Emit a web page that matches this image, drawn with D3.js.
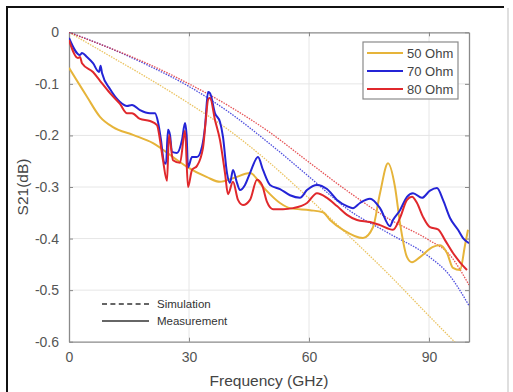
<!DOCTYPE html>
<html>
<head>
<meta charset="utf-8">
<script src="https://cdn.jsdelivr.net/npm/d3@7"></script>
<style>
  html, body { margin: 0; padding: 0; background: #fff; }
  svg { display: block; font-family: "Liberation Sans", Arial, sans-serif; }
</style>
</head>
<body>
<svg id="chart" width="513" height="392"></svg>
<script>
// Insertion loss S21 (dB) versus frequency (GHz) for three line impedances.

const xTicks = [0, 30, 60, 90];
const yTicks = [0, -0.1, -0.2, -0.3, -0.4, -0.5, -0.6];
const seriesNames = ["50 Ohm", "70 Ohm", "80 Ohm"];
const styleNames = ["Simulation", "Measurement"];

// Simulated S21 (smooth)
const sim50F = [0, 10, 20, 30, 40, 50, 60, 70, 80, 90, 97];
const sim50 = [0, -0.045, -0.09, -0.138, -0.19, -0.252, -0.322, -0.395, -0.47, -0.55, -0.605];
const sim70F = [0, 10, 20, 30, 40, 50, 60, 70, 80, 90, 95, 100];
const sim70 = [0, -0.03, -0.065, -0.105, -0.155, -0.215, -0.28, -0.345, -0.39, -0.435, -0.47, -0.53];
const sim80F = [0, 10, 20, 30, 40, 50, 60, 70, 80, 90, 95, 100];
const sim80 = [0, -0.03, -0.062, -0.1, -0.143, -0.193, -0.252, -0.31, -0.362, -0.403, -0.43, -0.49];

// Measured S21
const meas50F = [0, 4.5, 7.75, 11, 16, 21, 26, 29.5, 34.5, 37.75, 41, 45.25, 48.5, 52.75, 55.25, 60.25, 63.5,
  65.25, 68.5, 73.5, 76, 77.75, 79.75, 81.5, 82.75, 84.5, 85.75, 87.75, 91, 92.75, 94.5, 96, 97.75, 99, 99.75];
const meas50 = [-0.069, -0.125, -0.164, -0.184, -0.199, -0.215, -0.242, -0.261, -0.281, -0.29, -0.283, -0.273,
  -0.3, -0.331, -0.341, -0.345, -0.349, -0.364, -0.383, -0.399, -0.378, -0.312, -0.254, -0.3, -0.37, -0.436,
  -0.446, -0.436, -0.416, -0.413, -0.428, -0.457, -0.461, -0.413, -0.383];

const meas70F = [0, 2.75, 3.25, 4.5, 6, 7.5, 7.9, 8.25, 10.25, 12.75, 14.5, 15.75, 17.75, 20.25, 21.5, 22.25,
  23, 23.75, 24.25, 24.75, 25.25, 25.75, 27, 28.25, 29, 29.4, 29.75, 30.75, 32, 33.25, 34, 34.75, 35.25, 36.5,
  37.75, 38.5, 39.5, 40.25, 41, 42, 42.75, 44, 45.25, 47.25, 48.5, 50.25, 52.75, 55.25, 57.75, 59.5, 62, 64.5,
  67, 69.5, 71, 72.75, 75.25, 77.75, 80.25, 81, 82.75, 84.5, 86, 88.25, 90.25, 92, 93.5, 95.25, 97.25, 98.5, 100];
const meas70 = [-0.011, -0.044, -0.04, -0.048, -0.06, -0.077, -0.065, -0.079, -0.11, -0.135, -0.143, -0.141,
  -0.151, -0.157, -0.157, -0.174, -0.209, -0.252, -0.255, -0.189, -0.199, -0.232, -0.234, -0.209, -0.176,
  -0.199, -0.262, -0.242, -0.242, -0.222, -0.184, -0.116, -0.118, -0.157, -0.174, -0.203, -0.273, -0.292,
  -0.267, -0.292, -0.306, -0.296, -0.273, -0.242, -0.267, -0.296, -0.304, -0.316, -0.321, -0.306, -0.296,
  -0.304, -0.325, -0.337, -0.341, -0.331, -0.323, -0.341, -0.376, -0.364, -0.345, -0.319, -0.312, -0.321,
  -0.307, -0.302, -0.325, -0.36, -0.383, -0.399, -0.409];

const meas80F = [0, 2.25, 2.75, 3.25, 6, 7.75, 10.25, 12.75, 14.5, 15.75, 17.75, 20.25, 22, 22.75, 23.5, 24.5,
  25, 26, 27.75, 29, 29.75, 30.75, 32, 33.5, 34.25, 34.75, 35.25, 36.5, 37.75, 39, 39.75, 41, 42.25, 43.5, 45.25,
  47, 48.25, 49.5, 51, 53.5, 56, 59.5, 62, 64.5, 67, 69.5, 72, 75.25, 77.75, 81, 82.75, 84.5, 85.75, 87, 88.5,
  90.25, 92.25, 94, 96, 97.75, 99.5];
const meas80 = [-0.015, -0.05, -0.048, -0.06, -0.077, -0.094, -0.118, -0.139, -0.157, -0.157, -0.168, -0.172,
  -0.18, -0.209, -0.248, -0.288, -0.199, -0.248, -0.253, -0.191, -0.3, -0.267, -0.259, -0.224, -0.166, -0.131,
  -0.127, -0.17, -0.209, -0.273, -0.314, -0.29, -0.325, -0.335, -0.325, -0.286, -0.296, -0.329, -0.343, -0.343,
  -0.341, -0.331, -0.312, -0.321, -0.337, -0.354, -0.364, -0.368, -0.374, -0.383, -0.36, -0.325, -0.319, -0.331,
  -0.358, -0.378, -0.382, -0.403, -0.428, -0.446, -0.461];

const colors = ["#e6b43a", "#2424d6", "#e0282c"];

const zip = (fs, vs) => fs.map((f, i) => ({ f, v: vs[i] }));
const simSeries = [zip(sim50F, sim50), zip(sim70F, sim70), zip(sim80F, sim80)];
const measSeries = [zip(meas50F, meas50), zip(meas70F, meas70), zip(meas80F, meas80)];

const svg = d3.select("#chart");

// outer frame: dark left and top edges, faint right edge
svg.append("line").attr("x1", 7).attr("x2", 7).attr("y1", 6).attr("y2", 392)
  .attr("stroke", "#111").attr("stroke-width", 2);
svg.append("line").attr("x1", 6).attr("x2", 504).attr("y1", 7).attr("y2", 7)
  .attr("stroke", "#111").attr("stroke-width", 2);
svg.append("line").attr("x1", 508).attr("x2", 508).attr("y1", 8).attr("y2", 392)
  .attr("stroke", "#d4d4d4").attr("stroke-width", 1.5);

const x = d3.scaleLinear().domain([0, 100]).range([69, 469]);
const y = d3.scaleLinear().domain([-0.6, 0]).range([341.7, 32.3]);

const plot = svg.append("g");

// grid
plot.append("g").selectAll("line").data(xTicks.filter(d => d > 0)).join("line")
  .attr("x1", d => x(d)).attr("x2", d => x(d)).attr("y1", y(0)).attr("y2", y(-0.6))
  .attr("stroke", "#e6e6e6").attr("stroke-width", 1);
plot.append("g").selectAll("line").data(yTicks.filter(d => d < 0 && d > -0.6)).join("line")
  .attr("x1", x(0)).attr("x2", x(100)).attr("y1", d => y(d)).attr("y2", d => y(d))
  .attr("stroke", "#e6e6e6").attr("stroke-width", 1);

// axes
const axisColor = "#8a8a8a";
const gx = svg.append("g").attr("transform", `translate(0,${y(-0.6)})`)
  .call(d3.axisBottom(x).tickValues(xTicks).tickSizeInner(-4).tickSizeOuter(0).tickPadding(10));
const gy = svg.append("g").attr("transform", `translate(${x(0)},0)`)
  .call(d3.axisLeft(y).tickValues(yTicks).tickFormat(d => d === 0 ? "0" : d3.format(".1f")(d).replace("−", "-"))
    .tickSizeInner(-4).tickSizeOuter(0).tickPadding(10));
const gt = svg.append("g").attr("transform", `translate(0,${y(0)})`)
  .call(d3.axisTop(x).tickValues(xTicks).tickSizeInner(-4).tickSizeOuter(0).tickFormat(""));
const gr = svg.append("g").attr("transform", `translate(${x(100)},0)`)
  .call(d3.axisRight(y).tickValues(yTicks).tickSizeInner(-4).tickSizeOuter(0).tickFormat(""));
[gx, gy, gt, gr].forEach(g => {
  g.select(".domain").attr("stroke", axisColor).attr("stroke-width", 1.3);
  g.selectAll(".tick line").attr("stroke", axisColor);
  g.selectAll("text").attr("fill", "#555").attr("font-size", 14)
    .attr("font-family", "Liberation Sans, Arial, sans-serif");
});

// curves, clipped to the plot box
const clipId = "plotclip";
svg.append("clipPath").attr("id", clipId).append("rect")
  .attr("x", x(0)).attr("y", y(0)).attr("width", x(100) - x(0)).attr("height", y(-0.6) - y(0));

const curveLine = d3.line().x(d => x(d.f)).y(d => y(d.v)).curve(d3.curveMonotoneX);

const lines = svg.append("g").attr("clip-path", `url(#${clipId})`);
simSeries.forEach((s, i) => {
  lines.append("path").datum(s).attr("d", curveLine).attr("fill", "none")
    .attr("stroke", colors[i]).attr("stroke-width", 1.3).attr("stroke-dasharray", "1.5,1.2")
    .attr("opacity", 0.8);
});
measSeries.forEach((s, i) => {
  lines.append("path").datum(s).attr("d", curveLine).attr("fill", "none")
    .attr("stroke", colors[i]).attr("stroke-width", 2).attr("stroke-linejoin", "round");
});

// axis titles
svg.append("text").attr("x", (x(0) + x(100)) / 2).attr("y", 386).attr("text-anchor", "middle")
  .attr("font-size", 15.5).attr("fill", "#444").text("Frequency (GHz)");
svg.append("text").attr("transform", `translate(28,${(y(0) + y(-0.6)) / 2}) rotate(-90)`)
  .attr("text-anchor", "middle").attr("font-size", 15.5).attr("fill", "#444").text("S21(dB)");

// impedance legend
const leg = svg.append("g");
leg.append("rect").attr("x", 363).attr("y", 42).attr("width", 95).attr("height", 57)
  .attr("fill", "#fff").attr("stroke", "#8a8a8a").attr("stroke-width", 1.2);
seriesNames.forEach((name, i) => {
  const ly = 53 + i * 18;
  leg.append("line").attr("x1", 367).attr("x2", 403).attr("y1", ly).attr("y2", ly)
    .attr("stroke", colors[i]).attr("stroke-width", 2);
  leg.append("text").attr("x", 407).attr("y", ly + 4.5).attr("font-size", 13).attr("fill", "#444").text(name);
});

// line-style legend
styleNames.forEach((name, i) => {
  const ly = 304 + i * 17;
  svg.append("line").attr("x1", 102).attr("x2", 149).attr("y1", ly).attr("y2", ly)
    .attr("stroke", "#333").attr("stroke-width", 1.5)
    .attr("stroke-dasharray", i === 0 ? "5,3.4" : null);
  svg.append("text").attr("x", 157).attr("y", ly + 4).attr("font-size", 11.5).attr("fill", "#333").text(name);
});
</script>
</body>
</html>
